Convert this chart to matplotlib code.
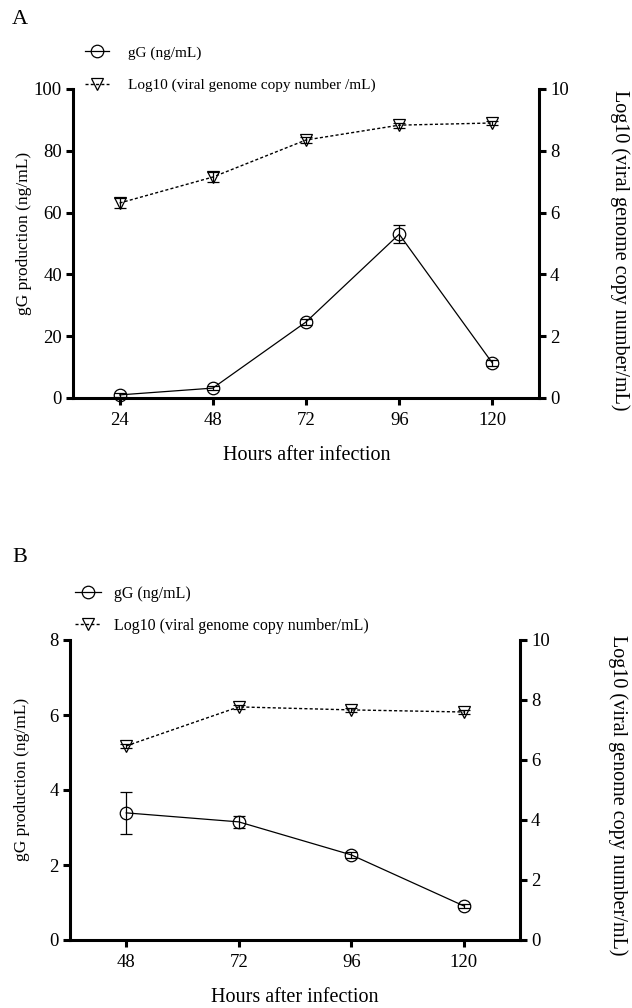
import matplotlib
matplotlib.use("Agg")
import matplotlib.pyplot as plt
from matplotlib.lines import Line2D

plt.rcParams['font.family'] = ['Liberation Serif', 'DejaVu Serif']

# ---- Data ----
hours_a = [24, 48, 72, 96, 120]
gg_a = [1.0, 3.2, 24.6, 53.0, 11.3]
gg_a_err = [0.6, 0.6, 1.0, 3.0, 1.0]
log_a = [6.31, 7.15, 8.35, 8.83, 8.9]
log_a_err = [0.15, 0.15, 0.1, 0.08, 0.08]

hours_b = [48, 72, 96, 120]
gg_b = [3.39, 3.15, 2.27, 0.91]
gg_b_err = [0.57, 0.17, 0.08, 0.05]
log_b = [6.47, 7.77, 7.67, 7.6]
log_b_err = [0.08, 0.08, 0.08, 0.08]

xticks_a = [24, 48, 72, 96, 120]
xticks_b = [48, 72, 96, 120]
yl_ticks_a = [0, 20, 40, 60, 80, 100]
yl_ticks_b = [0, 2, 4, 6, 8]
yr_ticks = [0, 2, 4, 6, 8, 10]

label_gg = "gG (ng/mL)"
label_log_a = "Log10 (viral genome copy number /mL)"
label_log_b = "Log10 (viral genome copy number/mL)"
ylabel_left = "gG production (ng/mL)"
ylabel_right = "Log10 (viral genome copy number/mL)"
xlabel = "Hours after infection"

W, H = 632, 1008
fig = plt.figure(figsize=(W / 100, H / 100), dpi=100)

TICK_FS = 13.5
LEFT_FS = 12.5
RIGHT_FS = 14.5
XL_FS = 14.5
MS = 9
SPINE_LW = 2.2
DASH = (0, (2.2, 1.6))


def box(l, t, r, b):
    return [l / W, 1 - b / H, (r - l) / W, (b - t) / H]


def style_axes(ax, ax2):
    for a in (ax, ax2):
        for s in a.spines.values():
            s.set_linewidth(SPINE_LW)
        a.spines['top'].set_visible(False)
    ax.spines['right'].set_visible(False)
    ax2.spines['left'].set_visible(False)
    ax2.spines['bottom'].set_visible(False)
    ax.tick_params(axis='both', direction='out', length=5, width=SPINE_LW,
                   labelsize=TICK_FS, pad=3)
    ax.tick_params(axis='x', pad=5)
    ax2.tick_params(axis='y', direction='out', length=5, width=SPINE_LW,
                    labelsize=TICK_FS, pad=3)


def panel(rect, hours, gg, gg_err, logv, log_err, xticks, yl_ticks, ylim_l, xlim):
    ax = fig.add_axes(rect)
    ax2 = ax.twinx()
    ax.errorbar(hours, gg, yerr=gg_err, color='black', lw=0.9, marker='o',
                ms=MS, mfc='none', mec='black', mew=0.9, capsize=4.5,
                elinewidth=0.9, capthick=0.9, clip_on=False, zorder=3)
    ax2.errorbar(hours, logv, yerr=log_err, color='black', lw=1.0, ls=DASH,
                 marker='v', ms=MS, mfc='none', mec='black', mew=0.9,
                 capsize=4.5, elinewidth=0.9, capthick=0.9, clip_on=False)
    ax.set_xlim(*xlim)
    ax.set_ylim(*ylim_l)
    ax2.set_ylim(0, 10)
    ax.set_xticks(xticks)
    ax.set_yticks(yl_ticks)
    ax2.set_yticks(yr_ticks)
    style_axes(ax, ax2)
    return ax, ax2


# ---- Panel A ----
axA, axA2 = panel(box(73, 89, 539, 398), hours_a, gg_a, gg_a_err, log_a,
                  log_a_err, xticks_a, yl_ticks_a, (0, 100), (12, 132))
# ---- Panel B ----
axB, axB2 = panel(box(70, 640, 520, 940), hours_b, gg_b, gg_b_err, log_b,
                  log_b_err, xticks_b, yl_ticks_b, (0, 8), (36, 132))

# Axis labels
fig.text(24 / W, 1 - 233 / H, ylabel_left, rotation=90, ha='center',
         va='center', fontsize=LEFT_FS)
fig.text(620 / W, 1 - 250 / H, ylabel_right, rotation=270, ha='center',
         va='center', fontsize=RIGHT_FS)
fig.text(307 / W, 1 - 455 / H, xlabel, ha='center', va='center',
         fontsize=XL_FS)

fig.text(22 / W, 1 - 779 / H, ylabel_left, rotation=90, ha='center',
         va='center', fontsize=LEFT_FS)
fig.text(618 / W, 1 - 795 / H, ylabel_right, rotation=270, ha='center',
         va='center', fontsize=RIGHT_FS)
fig.text(295 / W, 1 - 997 / H, xlabel, ha='center', va='center',
         fontsize=XL_FS)

# Panel letters
fig.text(20 / W, 1 - 20 / H, "A", ha='center', va='center', fontsize=16)
fig.text(20 / W, 1 - 558 / H, "B", ha='center', va='center', fontsize=16)

# Legends
h_gg = Line2D([], [], color='black', lw=0.9, marker='o', ms=MS, mfc='none',
              mec='black', mew=0.9)
h_log = Line2D([], [], color='black', lw=1.0, ls=DASH, marker='v', ms=MS,
               mfc='none', mec='black', mew=0.9)

fig.legend([h_gg, h_log], [label_gg, label_log_a], loc='upper left',
           bbox_to_anchor=(85 / W, 1 - 46 / H), frameon=False, fontsize=11,
           handlelength=1.6, handletextpad=1.2, labelspacing=1.2,
           borderaxespad=0, borderpad=0)
fig.legend([h_gg, h_log], [label_gg, label_log_b], loc='upper left',
           bbox_to_anchor=(75 / W, 1 - 586 / H), frameon=False, fontsize=11.5,
           handlelength=1.6, handletextpad=0.85, labelspacing=1.0,
           borderaxespad=0, borderpad=0)

fig.savefig("out.png", dpi=100)
